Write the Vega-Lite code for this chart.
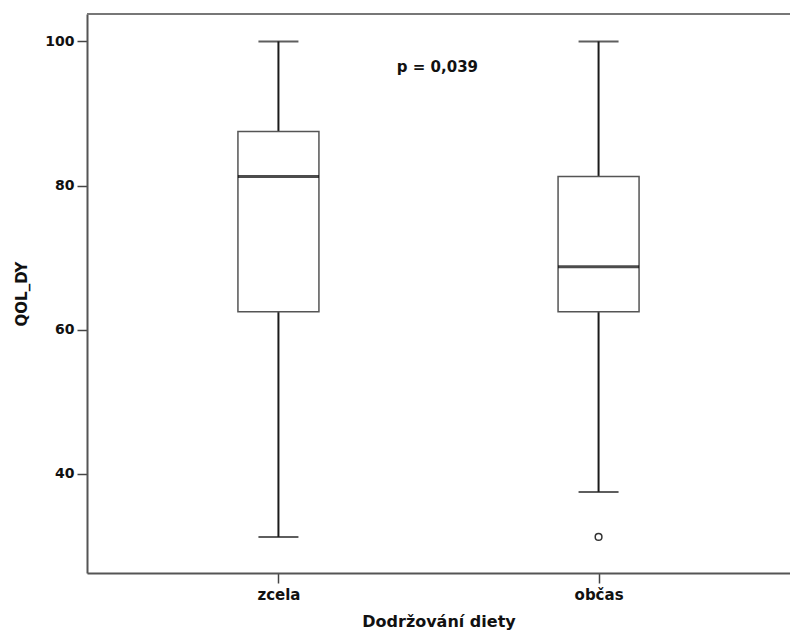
{
  "$schema": "https://vega.github.io/schema/vega-lite/v6.json",
  "autosize": {"type": "none"},
  "padding": {"left": 87, "top": 14, "right": 0, "bottom": 68},
  "width": 703,
  "height": 559,
  "background": "white",
  "config": {
    "view": {"stroke": null},
    "font": "DejaVu Sans"
  },
  "datasets": {
    "boxes": [
      {"group": "zcela", "lower": 31.25, "q1": 62.5, "median": 81.25, "q3": 87.5, "upper": 100},
      {"group": "občas", "lower": 37.5, "q1": 62.5, "median": 68.75, "q3": 81.25, "upper": 100}
    ],
    "outliers": [
      {"group": "občas", "value": 31.25}
    ],
    "note": [
      {"group": "zcela", "y": 96.5, "label": "p = 0,039"}
    ]
  },
  "encoding": {
    "x": {
      "field": "group", "type": "nominal", "sort": ["zcela", "občas"],
      "scale": {"type": "point", "padding": 0.598},
      "axis": {
        "title": "Dodržování diety", "labelAngle": 0,
        "labelFont": "DejaVu Sans", "labelFontWeight": "bold", "labelFontSize": 15, "labelColor": "#111111",
        "labelPadding": 4,
        "titleFont": "DejaVu Sans", "titleFontWeight": "bold", "titleFontSize": 16, "titleColor": "#111111",
        "titlePadding": 11,
        "tickSize": 10, "tickWidth": 1.5, "tickColor": "#444444",
        "domainColor": "#555555", "domainWidth": 2, "grid": false
      }
    }
  },
  "layer": [
    {
      "data": {"name": "note"},
      "mark": {"type": "rule", "color": "#777777", "strokeWidth": 2},
      "encoding": {"y": {"datum": 103.8, "type": "quantitative"}, "x": null}
    },
    {
      "data": {"name": "boxes"},
      "mark": {"type": "rule", "color": "#1a1a1a", "strokeWidth": 2},
      "encoding": {
        "y": {
          "field": "lower", "type": "quantitative",
          "scale": {"domain": [26.25, 103.8], "nice": false, "zero": false},
          "axis": {
            "title": "QOL_DY", "values": [40, 60, 80, 100],
            "labelFont": "DejaVu Sans", "labelFontWeight": "bold", "labelFontSize": 14, "labelColor": "#111111",
            "labelPadding": 3,
            "titleFont": "DejaVu Sans", "titleFontWeight": "bold", "titleFontSize": 15, "titleColor": "#111111",
            "titlePadding": 15,
            "tickSize": 10, "tickWidth": 1.5, "tickColor": "#444444",
            "domainColor": "#555555", "domainWidth": 2, "grid": false
          }
        },
        "y2": {"field": "q1"}
      }
    },
    {
      "data": {"name": "boxes"},
      "mark": {"type": "rule", "color": "#1a1a1a", "strokeWidth": 2},
      "encoding": {
        "y": {"field": "q3", "type": "quantitative"},
        "y2": {"field": "upper"}
      }
    },
    {
      "data": {"name": "boxes"},
      "mark": {"type": "tick", "color": "#1a1a1a", "size": 40, "thickness": 2},
      "encoding": {"y": {"field": "lower", "type": "quantitative"}}
    },
    {
      "data": {"name": "boxes"},
      "mark": {"type": "tick", "color": "#1a1a1a", "size": 40, "thickness": 2},
      "encoding": {"y": {"field": "upper", "type": "quantitative"}}
    },
    {
      "data": {"name": "boxes"},
      "mark": {"type": "bar", "size": 81, "fill": "white", "stroke": "#555555", "strokeWidth": 1.5},
      "encoding": {
        "y": {"field": "q1", "type": "quantitative"},
        "y2": {"field": "q3"}
      }
    },
    {
      "data": {"name": "boxes"},
      "mark": {"type": "tick", "color": "#000000", "size": 81, "thickness": 3},
      "encoding": {"y": {"field": "median", "type": "quantitative"}}
    },
    {
      "data": {"name": "outliers"},
      "mark": {"type": "point", "shape": "circle", "filled": false, "size": 45, "stroke": "#333333", "strokeWidth": 1.5, "opacity": 1},
      "encoding": {"y": {"field": "value", "type": "quantitative"}}
    },
    {
      "data": {"name": "note"},
      "mark": {"type": "text", "font": "DejaVu Sans", "fontWeight": "bold", "fontSize": 15, "color": "#111111", "dx": 159, "baseline": "middle", "align": "center"},
      "encoding": {
        "y": {"field": "y", "type": "quantitative"},
        "text": {"field": "label"}
      }
    }
  ]
}
